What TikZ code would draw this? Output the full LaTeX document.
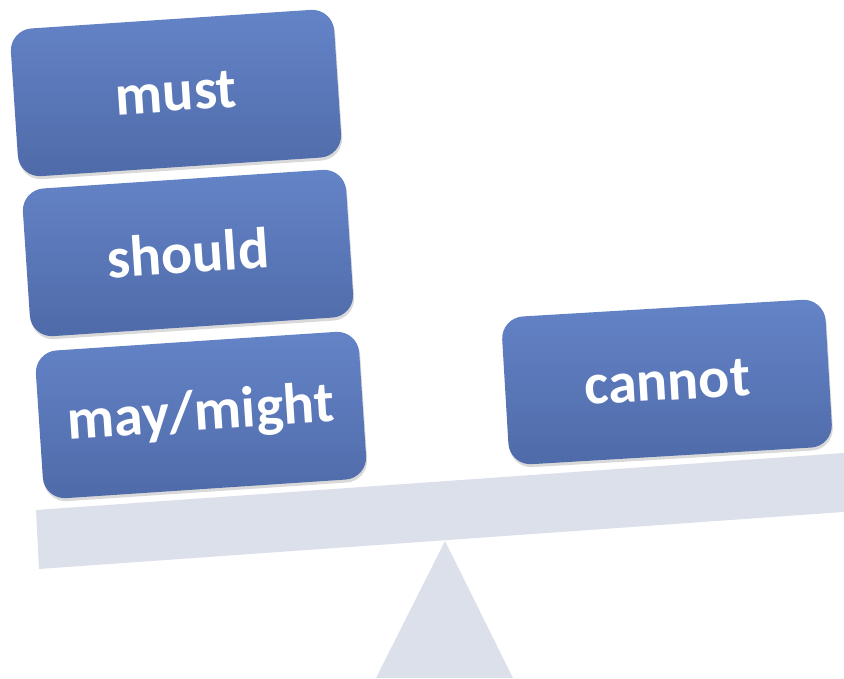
\documentclass[tikz,border=0pt]{standalone}
\usepackage{fontspec}
\setmainfont{Carlito}
\usetikzlibrary{shadows}
\definecolor{boxtop}{RGB}{100,132,200}
\definecolor{boxbottom}{RGB}{79,106,168}
\definecolor{beamgray}{RGB}{220,224,235}
\begin{document}
\begin{tikzpicture}[x=1pt, y=1pt,
    modal/.style={rounded corners=22pt, top color=boxtop, bottom color=boxbottom,
        minimum width=324pt, minimum height=148pt, inner sep=0pt, rotate=3.8,
        text=white, font=\fontsize{58}{60}\selectfont\bfseries,
        drop shadow={opacity=0.3, shadow xshift=1pt, shadow yshift=-3pt}},
    seesaw/.style={fill=beamgray}]
    \useasboundingbox (0,0) rectangle (844,678);
    \clip (0,0) rectangle (844,678);
    \fill [seesaw] (36,168) -- (900,229) -- (900,170) -- (39,109) -- cycle;
    \fill [seesaw] (445,137) -- (513,0) -- (376,0) -- cycle;
    \node [modal] (must) at (176,585) {must};
    \node [modal] (should) at (188,425) {should};
    \node [modal] (may) at (201,263) {may/might};
    \node [modal, rotate=-0.4] (cannot) at (667,296) {cannot};
\end{tikzpicture}
\end{document}
